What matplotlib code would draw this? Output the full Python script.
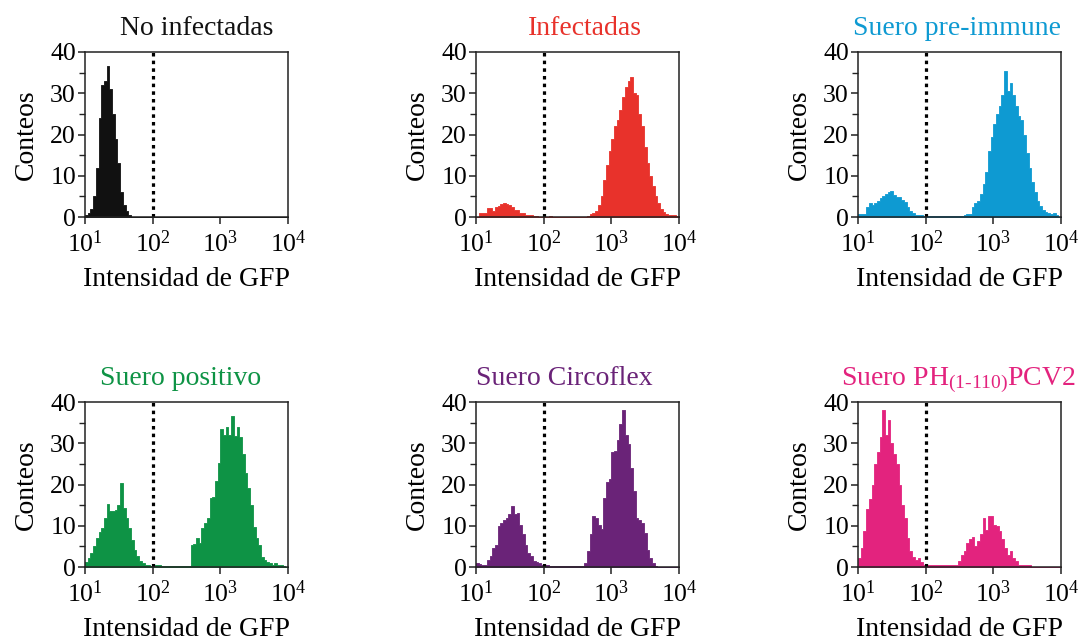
import numpy as np
import matplotlib
matplotlib.use("Agg")
import matplotlib.pyplot as plt
from matplotlib.ticker import FixedLocator, NullLocator, LogFormatterMathtext

plt.rcParams['font.family'] = ['Liberation Serif', 'DejaVu Serif']
plt.rcParams['mathtext.fontset'] = 'custom'
plt.rcParams['mathtext.rm'] = 'Liberation Serif'
plt.rcParams['mathtext.it'] = 'Liberation Serif:italic'

# 25 log-spaced channels per decade, from 10^1 to 10^4
bin_edges = np.logspace(1, 4, 76)
gate = 100

titles = ["No infectadas", "Infectadas", "Suero pre-immune",
          "Suero positivo", "Suero Circoflex",
          "Suero PH$_{\\mathregular{(1\u2010110)}}$PCV2"]
colors = ["#111111", "#E8322B", "#0E9AD2", "#0E9345", "#6A2378", "#E3237E"]

no_infectadas = [
    0.4, 1, 2, 5, 12, 24, 32, 33, 36.5, 31, 25, 19, 13, 6, 3, 1.5, 0.4, 0, 0, 0, 0, 0, 0, 0, 0,
    0, 0, 0, 0, 0, 0, 0, 0, 0, 0, 0, 0, 0, 0, 0, 0, 0, 0, 0, 0, 0, 0, 0, 0, 0,
    0, 0, 0, 0, 0, 0, 0, 0, 0, 0, 0, 0, 0, 0, 0, 0, 0, 0, 0, 0, 0, 0, 0, 0, 0,
]
infectadas = [
    0, 1, 1, 1, 2.2, 2.2, 1.4, 2.5, 2.6, 3.2, 3.3, 3.2, 3.0, 2.5, 1.8, 1.8, 1.0, 1.0, 0.6, 0.6, 0.4, 0.2, 0.2, 0, 0,
    0, 0, 0.2, 0, 0, 0, 0, 0, 0, 0, 0, 0, 0, 0, 0, 0, 0.3, 0.7, 1.0, 1.5, 3, 5, 9, 12.5, 16,
    19, 22, 23.5, 26, 29, 31.5, 33, 34, 30, 29.5, 25, 22, 17, 13, 10, 7.5, 5, 3.5, 2, 1.2, 0.8, 0.5, 0.4, 0.5, 0.3,
]
pre_immune = [
    0.7, 0.7, 0.7, 2.5, 3.4, 3.0, 3.5, 3.8, 4.6, 5.0, 5.5, 6.0, 6.4, 5.4, 4.8, 4.8, 4.2, 3.6, 2.5, 1.5, 0.9, 0.6, 0.6, 0.5, 0.3,
    0.3, 0.3, 0.3, 0.3, 0.3, 0.3, 0.3, 0.3, 0.3, 0.3, 0.3, 0.3, 0.3, 0.3, 0.6, 0.7, 0.7, 2.5, 3.5, 4, 5.5, 8, 11, 16, 19.5,
    22.5, 25, 27, 29.5, 35.5, 30.5, 32.5, 29.5, 27, 24.5, 23.5, 20, 15.5, 12, 8.5, 6, 4, 2.6, 1.8, 1.2, 0.9, 0.8, 1, 0.5, 0,
]
positivo = [
    1.2, 2.2, 3.5, 5, 7, 8.5, 9.5, 12, 15.2, 13.5, 13.5, 13.8, 15, 20.4, 14.2, 12, 9.5, 6.5, 4.2, 2.6, 1.5, 0.9, 0.5, 0.4, 0.3,
    0.2, 0.5, 0.5, 0.2, 0.2, 0.2, 0.2, 0.2, 0.2, 0.2, 0.2, 0.2, 0.2, 0.2, 5.3, 5.5, 7, 5.7, 9.4, 10.6, 11.8, 16.7, 17, 20.8, 25.3,
    33.5, 32, 34, 32, 36.5, 31.8, 34, 31.4, 27.3, 22.9, 19.2, 15.1, 9.8, 7, 5.3, 2.4, 1.6, 1.2, 1.0, 0.6, 1.0, 0.6, 0.4, 0.2, 0,
]
circoflex = [
    1, 0.8, 0.5, 0.6, 1.8, 2.6, 4.6, 5.4, 9.9, 10.7, 11.5, 12, 12.8, 14.8, 12.8, 13.2, 10.3, 7.9, 5.4, 3.4, 2.6, 1.5, 1.2, 1, 0.6,
    0.6, 0.4, 0.2, 0.2, 0.2, 0.2, 0.2, 0.2, 0.2, 0.2, 0.2, 0.2, 0.2, 0.2, 0.2, 1, 3.8, 7.9, 12.4, 11.9, 10.3, 9.1, 16.8, 20.5, 21.3,
    27.8, 28.2, 30.7, 34.7, 38, 31.9, 29.8, 24.1, 18.5, 11.9, 11.5, 10.7, 8.3, 4.2, 2.2, 1, 0.3, 0, 0, 0, 0, 0, 0, 0, 0,
]
ph_pcv2 = [
    2.2, 4.6, 8.7, 14, 16.5, 20, 25, 27.8, 31.5, 38, 32, 35.6, 30, 27.4, 25, 20, 15, 12, 7, 4, 2.5, 1.8, 2.2, 1.2, 0.6,
    0.4, 0.4, 0.4, 0.4, 0.4, 0.4, 0.4, 0.4, 0.4, 0.4, 0.4, 0.4, 1.5, 2.8, 4, 5.9, 6.7, 7.3, 5, 6.3, 7.9, 12, 9, 12.4, 12.4,
    10.3, 9.9, 8.7, 6.7, 4.6, 3, 3.8, 2.2, 1.4, 0.6, 0.6, 0.6, 0.6, 0.6, 0, 0, 0, 0, 0, 0, 0, 0, 0, 0, 0,
]
series = [no_infectadas, infectadas, pre_immune, positivo, circoflex, ph_pcv2]

yticks = [0, 10, 20, 30, 40]
yminor = [5, 15, 25, 35]
xticks = [10, 100, 1000, 10000]

W, H = 1085, 642
fig = plt.figure(figsize=(W / 100, H / 100), dpi=100)

lefts = [85, 476, 858]
tops = [52, 402]
aw, ah = 203, 165
title_x = [0.552, 0.535, 0.486, 0.473, 0.433, 0.493]

for k in range(6):
    r, c = divmod(k, 3)
    ax = fig.add_axes([lefts[c] / W, 1 - (tops[r] + ah) / H, aw / W, ah / H])
    vals = np.asarray(series[k], dtype=float)
    ax.fill_between(bin_edges, np.r_[vals, vals[-1]], 0, step="post",
                    facecolor=colors[k], edgecolor=colors[k], linewidth=0.6)
    ax.axvline(gate, color="black", linewidth=2.3, linestyle=(0, (1.1, 1.3)), zorder=3)
    ax.set_xscale("log")
    ax.set_xlim(10, 10000)
    ax.set_ylim(0, 40)
    ax.xaxis.set_major_locator(FixedLocator(xticks))
    ax.xaxis.set_minor_locator(NullLocator())
    ax.xaxis.set_major_formatter(LogFormatterMathtext())
    ax.yaxis.set_major_locator(FixedLocator(yticks))
    ax.yaxis.set_minor_locator(FixedLocator(yminor))
    for s in ax.spines.values():
        s.set_linewidth(1.1)
        s.set_color("#222222")
        s.set_zorder(4)
    ax.tick_params(axis="both", which="major", direction="out", length=5, width=1.1,
                   labelsize=18.5, color="#222222")
    ax.tick_params(axis="y", which="major", pad=1.5)
    ax.tick_params(axis="x", which="major", pad=5)
    ax.tick_params(axis="y", which="minor", direction="out", length=4, width=1.0, color="#222222")
    ax.set_ylabel("Conteos", fontsize=20)
    ax.yaxis.set_label_coords(-0.227, 0.5)
    ax.set_xlabel("Intensidad de GFP", fontsize=20)
    ax.xaxis.set_label_coords(0.5, -0.30)
    ax.set_title(titles[k], fontsize=20, color=colors[k], pad=12.5, x=title_x[k])

fig.savefig("out.png", dpi=100)
